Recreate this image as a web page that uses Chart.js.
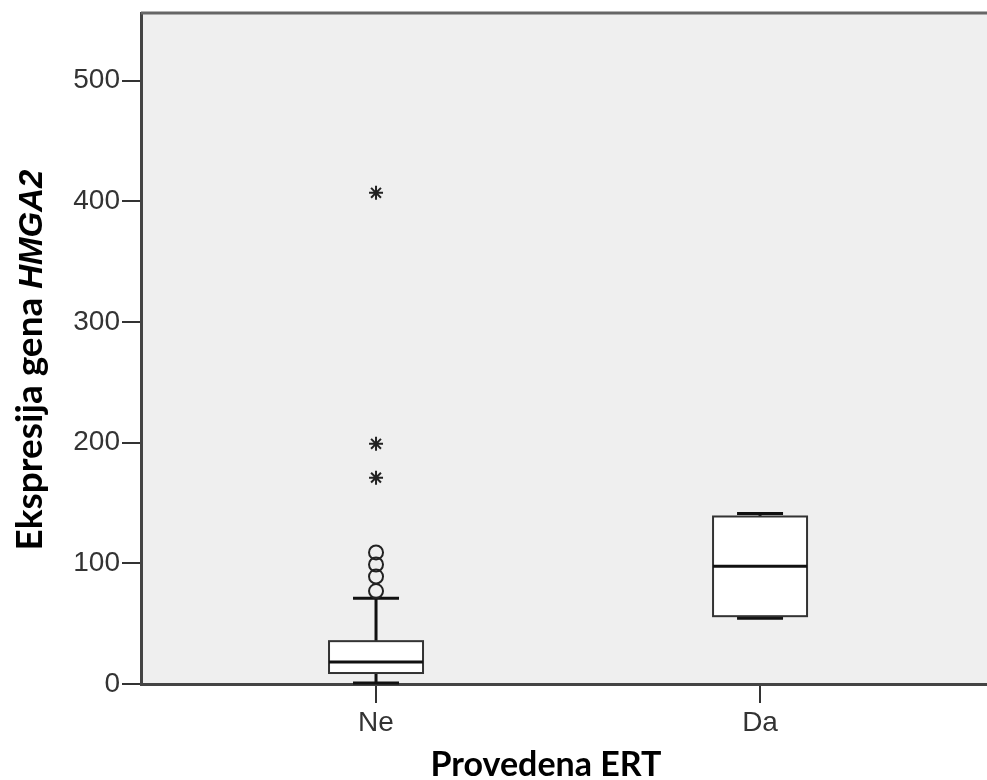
<!DOCTYPE html>
<html lang="hr">
<head>
  <meta charset="UTF-8" />
  <title>Ekspresija gena HMGA2</title>
  <script src="https://cdn.jsdelivr.net/npm/chart.js"></script>
  <style>
    body { margin: 0; background: #fff; }
    #wrap { width: 987px; height: 780px; }
  </style>
</head>
<body>
  <div id="wrap"><canvas id="chart" width="987" height="780"></canvas></div>

  <script>
    // groups on the x axis (positioned at 1 and 2)
    const groups = ['Ne', 'Da'];
    const groupPos = [1, 2];
    // box plot summaries
    const whiskerLow = [0.8, 54.5];
    const q1 = [9.1, 56.2];
    const medians = [18.2, 97.5];
    const q3 = [35.5, 138.8];
    const whiskerHigh = [71, 141.3];
    // outliers of the "Ne" group
    const circleOutliers = [77, 89, 99, 109];
    const starOutliers = [171, 199, 407];
    const yTicks = [0, 100, 200, 300, 400, 500];

    const ink = '#111';

    const boxPlugin = {
      id: 'boxes',
      beforeDraw(chart) {
        const { ctx, chartArea: a } = chart;
        ctx.save();
        ctx.fillStyle = '#efefef';
        ctx.fillRect(a.left, a.top, a.right - a.left, a.bottom - a.top);
        ctx.restore();
      },
      beforeDatasetsDraw(chart) {
        const { ctx, scales: { x, y }, chartArea: a } = chart;
        ctx.save();
        // top frame line
        ctx.strokeStyle = '#666';
        ctx.lineWidth = 3;
        ctx.beginPath();
        ctx.moveTo(a.left, a.top);
        ctx.lineTo(a.right, a.top);
        ctx.stroke();

        const half = 47, capHalf = 23;
        groups.forEach((g, i) => {
          const cx = x.getPixelForValue(groupPos[i]);
          const yl = y.getPixelForValue(whiskerLow[i]);
          const y1 = y.getPixelForValue(q1[i]);
          const ym = y.getPixelForValue(medians[i]);
          const y3 = y.getPixelForValue(q3[i]);
          const yh = y.getPixelForValue(whiskerHigh[i]);
          ctx.strokeStyle = ink;
          ctx.lineWidth = 3;
          ctx.beginPath();
          ctx.moveTo(cx, y3); ctx.lineTo(cx, yh);
          ctx.moveTo(cx, y1); ctx.lineTo(cx, yl);
          ctx.moveTo(cx - capHalf, yh); ctx.lineTo(cx + capHalf, yh);
          ctx.moveTo(cx - capHalf, yl); ctx.lineTo(cx + capHalf, yl);
          ctx.stroke();
          ctx.fillStyle = '#fff';
          ctx.fillRect(cx - half, y3, half * 2, y1 - y3);
          ctx.lineWidth = 2;
          ctx.strokeStyle = '#333';
          ctx.strokeRect(cx - half, y3, half * 2, y1 - y3);
          ctx.lineWidth = 3;
          ctx.strokeStyle = ink;
          ctx.beginPath();
          ctx.moveTo(cx - half, ym); ctx.lineTo(cx + half, ym);
          ctx.stroke();
        });
        ctx.restore();
      },
      afterDraw(chart) {
        const { ctx } = chart;
        ctx.save();
        ctx.fillStyle = '#000';
        // x axis title
        ctx.font = 'bold 34px Lato';
        ctx.textAlign = 'center';
        ctx.textBaseline = 'alphabetic';
        ctx.fillText('Provedena ERT', 546, 776);
        // y axis title with italic gene name
        const partA = 'Ekspresija gena ';
        const partB = 'HMGA2';
        const fA = 'bold 37px Lato', fB = 'italic bold 33px "Liberation Sans"';
        ctx.font = fA; const wA = ctx.measureText(partA).width;
        ctx.font = fB; const wB = ctx.measureText(partB).width;
        ctx.translate(42, 360);
        ctx.rotate(-Math.PI / 2);
        ctx.textAlign = 'left';
        const start = -(wA + wB) / 2;
        ctx.font = fA; ctx.fillText(partA, start, 0);
        ctx.font = fB; ctx.fillText(partB, start + wA, 0);
        ctx.restore();
      }
    };

    new Chart(document.getElementById('chart'), {
      type: 'scatter',
      data: {
        datasets: [
          {
            label: 'circles',
            data: circleOutliers.map(v => ({ x: groupPos[0], y: v })),
            pointStyle: 'circle',
            pointRadius: 7,
            pointBorderWidth: 2,
            pointBorderColor: '#222',
            pointBackgroundColor: 'rgba(0,0,0,0)'
          },
          {
            label: 'stars',
            data: starOutliers.map(v => ({ x: groupPos[0], y: v })),
            pointStyle: 'star',
            pointRadius: 7,
            pointBorderWidth: 2,
            pointBorderColor: '#222',
            pointBackgroundColor: '#222'
          }
        ]
      },
      options: {
        responsive: false,
        animation: false,
        layout: { autoPadding: false, padding: { top: 13, right: 0, left: 0, bottom: 0 } },
        plugins: { legend: { display: false }, tooltip: { enabled: false } },
        scales: {
          x: {
            type: 'linear',
            min: 0.388,
            max: 2.591,
            afterBuildTicks(scale) { scale.ticks = groupPos.map(v => ({ value: v })); },
            afterFit(scale) { scale.height = 96; scale.paddingLeft = 0; scale.paddingRight = 0; },
            grid: { drawOnChartArea: false, tickLength: 19, color: '#333', lineWidth: 2 },
            border: { color: '#444', width: 3 },
            ticks: {
              color: '#333',
              font: { family: 'Liberation Sans', size: 28 },
              padding: 3,
              maxRotation: 0,
              callback: v => groups[groupPos.indexOf(v)] ?? ''
            }
          },
          y: {
            min: 0,
            max: 556,
            afterBuildTicks(scale) { scale.ticks = yTicks.map(v => ({ value: v })); },
            afterFit(scale) { scale.width = 141; scale.paddingTop = 0; scale.paddingBottom = 0; },
            grid: { drawOnChartArea: false, tickLength: 19, color: '#333', lineWidth: 2 },
            border: { color: '#444', width: 3 },
            ticks: {
              color: '#333',
              font: { family: 'Liberation Sans', size: 28 },
              padding: 2
            }
          }
        }
      },
      plugins: [boxPlugin]
    });
  </script>
</body>
</html>
